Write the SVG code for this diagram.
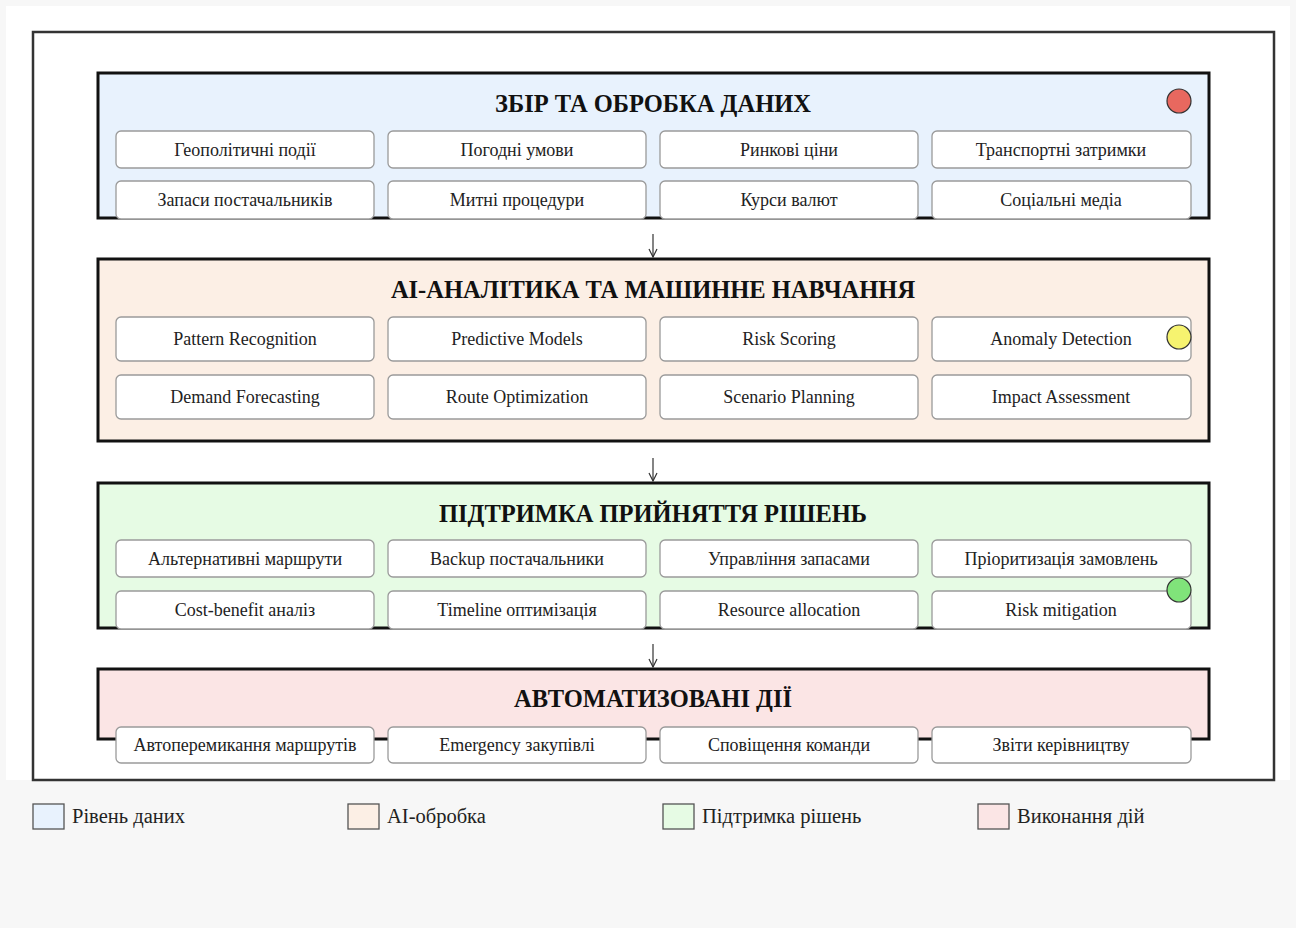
<svg xmlns="http://www.w3.org/2000/svg" width="1296" height="928" viewBox="0 0 1296 928">
  <style>
    .layer { stroke: #111; stroke-width: 3; }
    .cell { fill: #fff; stroke: #9a9a9a; stroke-width: 1.3; }
    .title { font-family: "Liberation Serif", "Times New Roman", serif; font-size: 24.5px; font-weight: bold; fill: #111; text-anchor: middle; }
    .label { font-family: "Liberation Serif", "Times New Roman", serif; font-size: 18px; fill: #222; text-anchor: middle; }
    .legtext { font-family: "Liberation Serif", "Times New Roman", serif; font-size: 20.5px; fill: #222; }
    .legbox { stroke: #555; stroke-width: 1.3; }
    .dot { stroke: #333; stroke-width: 1.2; }
    .conn { stroke: #333; stroke-width: 1.2; fill: none; }
  </style>
  <defs>
    <marker id="arrow" viewBox="0 0 10 10" refX="9" refY="5" markerWidth="10" markerHeight="10" markerUnits="userSpaceOnUse" orient="auto">
      <path d="M1,1 L9,5 L1,9" fill="none" stroke="#333" stroke-width="1.2"/>
    </marker>
  </defs>

  <!-- page -->
  <rect x="0" y="0" width="1296" height="928" fill="#f7f7f7"/>
  <rect x="6" y="6" width="1284" height="774" fill="#ffffff"/>
  <rect x="33" y="32" width="1241" height="748" fill="none" stroke="#333" stroke-width="2.5"/>

  <!-- layer 1: data collection -->
  <g id="layer-data">
    <rect class="layer" x="98" y="73" width="1111" height="145" fill="#e8f2fd"/>
    <text class="title" x="653" y="112">ЗБІР ТА ОБРОБКА ДАНИХ</text>
    <circle class="dot" cx="1179" cy="101" r="12" fill="#e8685f"/>
    <g id="d1"><rect class="cell" x="116" y="131" width="258" height="37" rx="5"/><text class="label" x="245" y="156">Геополітичні події</text></g>
    <g id="d2"><rect class="cell" x="388" y="131" width="258" height="37" rx="5"/><text class="label" x="517" y="156">Погодні умови</text></g>
    <g id="d3"><rect class="cell" x="660" y="131" width="258" height="37" rx="5"/><text class="label" x="789" y="156">Ринкові ціни</text></g>
    <g id="d4"><rect class="cell" x="932" y="131" width="259" height="37" rx="5"/><text class="label" x="1061" y="156">Транспортні затримки</text></g>
    <g id="d5"><rect class="cell" x="116" y="181" width="258" height="38" rx="5"/><text class="label" x="245" y="206">Запаси постачальників</text></g>
    <g id="d6"><rect class="cell" x="388" y="181" width="258" height="38" rx="5"/><text class="label" x="517" y="206">Митні процедури</text></g>
    <g id="d7"><rect class="cell" x="660" y="181" width="258" height="38" rx="5"/><text class="label" x="789" y="206">Курси валют</text></g>
    <g id="d8"><rect class="cell" x="932" y="181" width="259" height="38" rx="5"/><text class="label" x="1061" y="206">Соціальні медіа</text></g>
  </g>

  <!-- layer 2: AI analytics -->
  <g id="layer-ai">
    <rect class="layer" x="98" y="259" width="1111" height="182" fill="#fcefe5"/>
    <text class="title" x="653" y="298">AI-АНАЛІТИКА ТА МАШИННЕ НАВЧАННЯ</text>
    <g id="a1"><rect class="cell" x="116" y="317" width="258" height="44" rx="5"/><text class="label" x="245" y="345">Pattern Recognition</text></g>
    <g id="a2"><rect class="cell" x="388" y="317" width="258" height="44" rx="5"/><text class="label" x="517" y="345">Predictive Models</text></g>
    <g id="a3"><rect class="cell" x="660" y="317" width="258" height="44" rx="5"/><text class="label" x="789" y="345">Risk Scoring</text></g>
    <g id="a4"><rect class="cell" x="932" y="317" width="259" height="44" rx="5"/><text class="label" x="1061" y="345">Anomaly Detection</text></g>
    <g id="a5"><rect class="cell" x="116" y="375" width="258" height="44" rx="5"/><text class="label" x="245" y="403">Demand Forecasting</text></g>
    <g id="a6"><rect class="cell" x="388" y="375" width="258" height="44" rx="5"/><text class="label" x="517" y="403">Route Optimization</text></g>
    <g id="a7"><rect class="cell" x="660" y="375" width="258" height="44" rx="5"/><text class="label" x="789" y="403">Scenario Planning</text></g>
    <g id="a8"><rect class="cell" x="932" y="375" width="259" height="44" rx="5"/><text class="label" x="1061" y="403">Impact Assessment</text></g>
    <circle class="dot" cx="1179" cy="337" r="12" fill="#f6f36f"/>
  </g>

  <!-- layer 3: decision support -->
  <g id="layer-decision">
    <rect class="layer" x="98" y="483" width="1111" height="145" fill="#e6fbe4"/>
    <text class="title" x="653" y="522">ПІДТРИМКА ПРИЙНЯТТЯ РІШЕНЬ</text>
    <g id="s1"><rect class="cell" x="116" y="540" width="258" height="37" rx="5"/><text class="label" x="245" y="565">Альтернативні маршрути</text></g>
    <g id="s2"><rect class="cell" x="388" y="540" width="258" height="37" rx="5"/><text class="label" x="517" y="565">Backup постачальники</text></g>
    <g id="s3"><rect class="cell" x="660" y="540" width="258" height="37" rx="5"/><text class="label" x="789" y="565">Управління запасами</text></g>
    <g id="s4"><rect class="cell" x="932" y="540" width="259" height="37" rx="5"/><text class="label" x="1061" y="565">Пріоритизація замовлень</text></g>
    <g id="s5"><rect class="cell" x="116" y="591" width="258" height="38" rx="5"/><text class="label" x="245" y="616">Cost-benefit аналіз</text></g>
    <g id="s6"><rect class="cell" x="388" y="591" width="258" height="38" rx="5"/><text class="label" x="517" y="616">Timeline оптимізація</text></g>
    <g id="s7"><rect class="cell" x="660" y="591" width="258" height="38" rx="5"/><text class="label" x="789" y="616">Resource allocation</text></g>
    <g id="s8"><rect class="cell" x="932" y="591" width="259" height="38" rx="5"/><text class="label" x="1061" y="616">Risk mitigation</text></g>
    <circle class="dot" cx="1179" cy="590" r="12" fill="#80e37a"/>
  </g>

  <!-- layer 4: automated actions -->
  <g id="layer-actions">
    <rect class="layer" x="98" y="669" width="1111" height="70" fill="#fbe5e5"/>
    <text class="title" x="653" y="707">АВТОМАТИЗОВАНІ ДІЇ</text>
    <g id="x1"><rect class="cell" x="116" y="727" width="258" height="36" rx="5"/><text class="label" x="245" y="751">Автоперемикання маршрутів</text></g>
    <g id="x2"><rect class="cell" x="388" y="727" width="258" height="36" rx="5"/><text class="label" x="517" y="751">Emergency закупівлі</text></g>
    <g id="x3"><rect class="cell" x="660" y="727" width="258" height="36" rx="5"/><text class="label" x="789" y="751">Сповіщення команди</text></g>
    <g id="x4"><rect class="cell" x="932" y="727" width="259" height="36" rx="5"/><text class="label" x="1061" y="751">Звіти керівництву</text></g>
  </g>

  <!-- flow between layers -->
  <g id="connectors">
    <line class="conn" x1="653" y1="234" x2="653" y2="257" marker-end="url(#arrow)"/>
    <line class="conn" x1="653" y1="458" x2="653" y2="481" marker-end="url(#arrow)"/>
    <line class="conn" x1="653" y1="644" x2="653" y2="667" marker-end="url(#arrow)"/>
  </g>

  <!-- legend -->
  <g id="legend">
    <rect class="legbox" x="33" y="804" width="31" height="25" fill="#e8f2fd"/>
    <text class="legtext" x="72" y="823">Рівень даних</text>
    <rect class="legbox" x="348" y="804" width="31" height="25" fill="#fcefe5"/>
    <text class="legtext" x="387" y="823">AI-обробка</text>
    <rect class="legbox" x="663" y="804" width="31" height="25" fill="#e6fbe4"/>
    <text class="legtext" x="702" y="823">Підтримка рішень</text>
    <rect class="legbox" x="978" y="804" width="31" height="25" fill="#fbe5e5"/>
    <text class="legtext" x="1017" y="823">Виконання дій</text>
  </g>
</svg>
